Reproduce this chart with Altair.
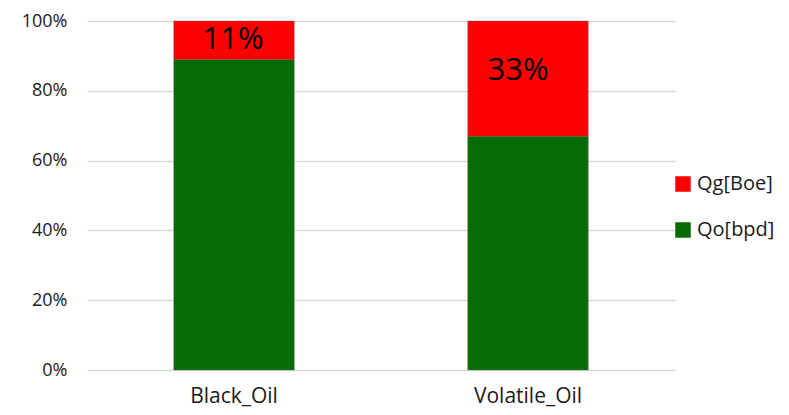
import altair as alt
import pandas as pd

categories = ["Black_Oil", "Volatile_Oil"]
qo_share = [89, 67]
qg_share = [11, 33]
series_names = ["Qg[Boe]", "Qo[bpd]"]
series_colors = ["#FE0000", "#076B07"]
y_ticks = [0, 0.2, 0.4, 0.6, 0.8, 1.0]

rows = []
for c, qo, qg in zip(categories, qo_share, qg_share):
    rows.append({"category": c, "series": "Qo[bpd]", "value": qo})
    rows.append({"category": c, "series": "Qg[Boe]", "value": qg})
df = pd.DataFrame(rows)

FONT = "Open Sans"
TXT = "#1a1a1a"

base = alt.Chart(df).transform_calculate(
    rank="datum.series == 'Qo[bpd]' ? 0 : 1"
)

x_enc = alt.X(
    "category:N",
    sort=categories,
    scale=alt.Scale(paddingInner=0.59, paddingOuter=0.295),
    axis=alt.Axis(title=None, labelAngle=0, ticks=False, domain=False,
                  labelFontSize=21, labelPadding=15, labelFont=FONT,
                  labelColor=TXT, grid=False),
)

bars = base.mark_bar(stroke="#5a5a5a", strokeWidth=0.6, strokeOpacity=0.5).encode(
    x=x_enc,
    y=alt.Y("value:Q", stack="normalize",
            scale=alt.Scale(domain=[0, 1]),
            axis=alt.Axis(title=None, format=".0%", values=y_ticks, ticks=False,
                          domain=False, labelFontSize=18, labelFont=FONT,
                          labelColor=TXT, labelPadding=20, gridColor="#D9D9D9",
                          gridWidth=1.5)),
    color=alt.Color("series:N",
                    scale=alt.Scale(domain=series_names, range=series_colors),
                    legend=alt.Legend(title=None, orient="none", legendX=586,
                                      legendY=153, symbolType="square",
                                      symbolSize=240, labelFontSize=20,
                                      labelFont=FONT, labelColor=TXT,
                                      rowPadding=26, labelOffset=4,
                                      symbolStrokeWidth=0)),
    order=alt.Order("rank:Q", sort="ascending"),
)

txt_base = base.transform_stack(
    stack="value", groupby=["category"], as_=["v0", "v1"], offset="normalize",
    sort=[alt.SortField("rank", order="ascending")],
).transform_calculate(
    mid="(datum.v0 + datum.v1) / 2", share="datum.v1 - datum.v0"
).transform_filter("datum.series == 'Qg[Boe]'")

def label_layer(cat, dx, dy):
    return txt_base.transform_filter(f"datum.category == '{cat}'").mark_text(
        fontSize=31, font=FONT, color="#000000", dx=dx, dy=dy, baseline="middle"
    ).encode(
        x=alt.X("category:N", sort=categories),
        y=alt.Y("mid:Q", stack=None),
        text=alt.Text("share:Q", format=".0%"),
    )

chart = alt.layer(
    bars,
    label_layer("Black_Oil", -1, 0),
    label_layer("Volatile_Oil", -10, -8),
).properties(
    width=588, height=349, autosize="none",
    padding={"left": 79, "top": 13, "right": 100, "bottom": 38},
).configure_view(stroke=None)

chart.save("out.html", embed_options={"renderer": "svg", "actions": False})
